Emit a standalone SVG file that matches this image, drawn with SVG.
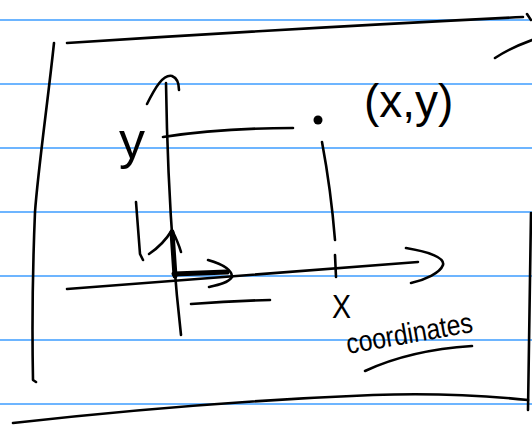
<svg xmlns="http://www.w3.org/2000/svg" width="532" height="434" viewBox="0 0 532 434">
<style>
.rule{stroke:#3d9cff;stroke-width:1.5;fill:none}
.ink{stroke:#000;stroke-width:2.6;fill:none;stroke-linecap:round;stroke-linejoin:round}
.thick{stroke:#000;stroke-width:5;fill:none;stroke-linecap:round}
.hand{font-family:"Liberation Sans",Arial,sans-serif;fill:#000}
</style>
<rect width="532" height="434" fill="#fff"/>
<g id="paper-rules">
<line class="rule" x1="0" y1="20" x2="532" y2="20"/>
<line class="rule" x1="0" y1="84" x2="532" y2="84"/>
<line class="rule" x1="0" y1="148" x2="532" y2="148"/>
<line class="rule" x1="0" y1="212" x2="532" y2="212"/>
<line class="rule" x1="0" y1="276" x2="532" y2="276"/>
<line class="rule" x1="0" y1="340" x2="532" y2="340"/>
<line class="rule" x1="0" y1="404" x2="532" y2="404"/>
</g>
<g id="frame">
<path class="ink" d="M67,43 Q300,28 523,17"/>
<path class="ink" d="M527,14 L531,20"/>
<path class="ink" d="M495,58 Q510,48 532,40"/>
<path class="ink" d="M54,43 C48,100 38,170 35,212 C33,260 32,330 33,380 L36,382"/>
<path class="ink" d="M13,423 Q200,402 373,395 Q450,392 528,400"/>
<path class="ink" d="M531,213 L528,410"/>
</g>
<g id="connectors">
<path class="ink" d="M166,83 Q168,220 181,335"/>
<path class="ink" d="M147,104 C155,88 163,74 172,76 C177,78 179,84 179,90"/>
<path class="ink" d="M67,289 Q250,275 418,262"/>
<path class="ink" d="M406,248 C430,252 445,258 443,265 C440,273 425,280 411,283"/>
<path class="ink" d="M163,137 Q220,128 293,128"/>
<path class="ink" d="M322,142 Q331,190 335,240"/>
<path class="ink" d="M335,255 L336,277"/>
<path class="ink" d="M136,202 L140,254 L143,260"/>
<path class="ink" d="M149,254 C158,248 166,240 172,230 C176,238 179,245 181,252"/>
<path class="thick" d="M172,232 L175,276"/>
<path class="thick" d="M174,274 L227,272"/>
<path class="ink" d="M208,260 C222,264 232,270 232,277 C228,283 218,285 209,287"/>
<path class="ink" stroke-width="3" d="M191,304 Q230,301 270,300"/>
<path class="ink" stroke-width="3" d="M365,371 Q410,350 472,346"/>
</g>
<g id="point">
<circle cx="318" cy="120" r="4.5" fill="#000"/>
</g>
<g id="labels">
<text class="hand" x="119" y="158" font-size="52">y</text>
<text class="hand" x="364" y="117" font-size="46">(x,y)</text>
<text class="hand" x="332" y="318" font-size="34" textLength="19" lengthAdjust="spacingAndGlyphs">X</text>
<text class="hand" x="348" y="354" font-size="29" textLength="128" lengthAdjust="spacingAndGlyphs" transform="rotate(-10 348 354)">coordinates</text>
</g>
</svg>
